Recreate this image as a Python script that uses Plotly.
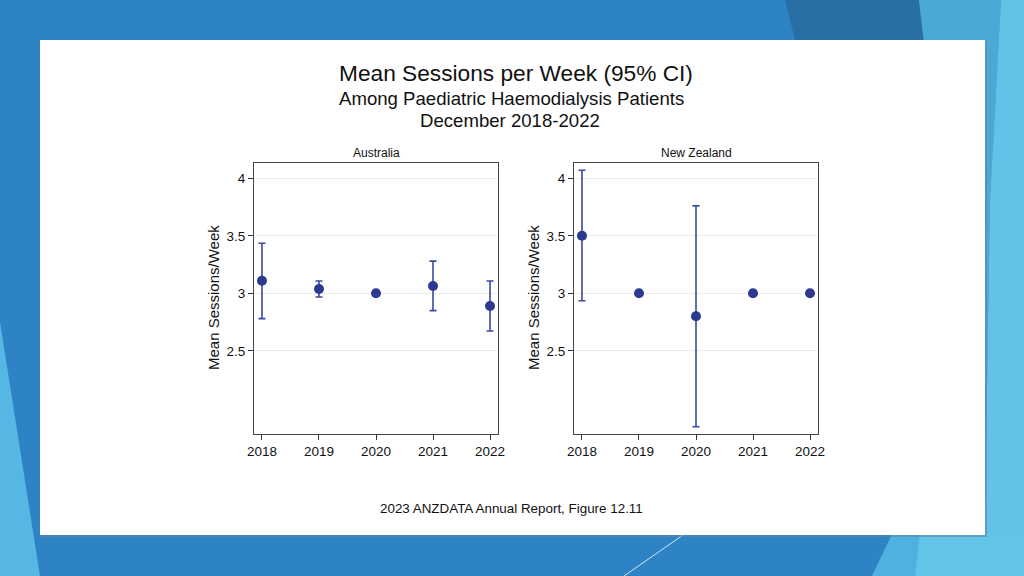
import plotly.graph_objects as go

years = [2018, 2019, 2020, 2021, 2022]

aus_mean = [3.11, 3.037, 3.0, 3.063, 2.89]
aus_upper = [3.435, 3.107, None, 3.28, 3.107]
aus_lower = [2.78, 2.968, None, 2.85, 2.672]

nz_mean = [3.5, 3.0, 2.8, 3.0, 3.0]
nz_upper = [4.07, None, 3.76, None, None]
nz_lower = [2.936, None, 1.84, None, None]

panel_titles = ["Australia", "New Zealand"]
y_ticks = [2.5, 3, 3.5, 4]
y_tick_text = ["2.5", "3", "3.5", "4"]

title_main = "Mean Sessions per Week (95% CI)"
title_sub1 = "Among Paediatric Haemodialysis Patients"
title_sub2 = "December 2018-2022"
y_title = "Mean Sessions/Week"
footer = "2023 ANZDATA Annual Report, Figure 12.11"

W, H = 1024, 576
FONT = "Liberation Sans, Arial, sans-serif"
MARK = "#2B3990"
ERR = "#3B4A9E"


def px(x):
    return x / W


def py(y):
    return 1 - y / H


def err(mean, hi, lo):
    plus = [(h - m) if h is not None else 0 for m, h in zip(mean, hi)]
    minus = [(m - l) if l is not None else 0 for m, l in zip(mean, lo)]
    return plus, minus


fig = go.Figure()

for i, (mean, hi, lo) in enumerate([(aus_mean, aus_upper, aus_lower), (nz_mean, nz_upper, nz_lower)]):
    plus, minus = err(mean, hi, lo)
    sfx = "" if i == 0 else "2"
    fig.add_trace(go.Scatter(
        x=years, y=mean, mode="markers",
        marker=dict(color=MARK, size=10),
        error_y=dict(type="data", symmetric=False, array=plus, arrayminus=minus,
                     color=ERR, thickness=1.6, width=3.5),
        xaxis="x" + sfx, yaxis="y" + sfx, showlegend=False,
    ))

x_domains = [[px(254), px(498)], [px(574), px(818)]]
y_domain = [py(434), py(163)]
xr = [2017.86, 2022.14]
yr = [1.777, 4.133]

for i in range(2):
    sfx = "" if i == 0 else "2"
    xa = dict(domain=x_domains[i], range=xr, tickvals=years, ticktext=[str(y) for y in years],
              ticks="outside", ticklen=5, tickcolor="#333", showline=True, linecolor="#444",
              linewidth=1, mirror=True, showgrid=False, zeroline=False,
              tickfont=dict(family=FONT, size=13.5, color="#111"), anchor="y" + sfx)
    ya = dict(domain=y_domain, range=yr, tickvals=y_ticks, ticktext=y_tick_text,
              ticks="outside", ticklen=5, tickcolor="#333", showline=True, linecolor="#444",
              linewidth=1, mirror=True, showgrid=True, gridcolor="#E8EDF2", gridwidth=1,
              zeroline=False, tickfont=dict(family=FONT, size=13.5, color="#111"),
              anchor="x" + sfx)
    fig.update_layout(**{"xaxis" + sfx: xa, "yaxis" + sfx: ya})

annotations = [
    dict(text=title_main, x=px(516), y=py(72.5), font=dict(size=22.7)),
    dict(text=title_sub1, x=px(511), y=py(98.5), font=dict(size=18.6)),
    dict(text=title_sub2, x=px(510), y=py(120), font=dict(size=18.6)),
    dict(text=panel_titles[0], x=px(376), y=py(153), font=dict(size=12)),
    dict(text=panel_titles[1], x=px(696), y=py(153), font=dict(size=12)),
    dict(text=y_title, x=px(213), y=py(298), font=dict(size=15), textangle=-90),
    dict(text=y_title, x=px(533), y=py(298), font=dict(size=15), textangle=-90),
    dict(text=footer, x=px(511), y=py(508), font=dict(size=13.4)),
]
for a in annotations:
    a.update(xref="paper", yref="paper", showarrow=False, xanchor="center", yanchor="middle")
    a["font"].update(family=FONT, color="#111")

shapes = []


def poly(pts, color):
    path = "M " + " L ".join(f"{px(x)},{py(y)}" for x, y in pts) + " Z"
    return dict(type="path", path=path, xref="paper", yref="paper",
                fillcolor=color, line=dict(width=0), layer="below")


# decorative background
shapes.append(poly([(785, 0), (919, 0), (926, 60), (800, 60)], "#286FA6"))
shapes.append(poly([(919, 0), (1001, 0), (990, 200), (984, 576), (930, 576), (926, 60)], "#4BA9D6"))
shapes.append(poly([(1001, 0), (1024, 0), (1024, 576), (984, 576), (990, 200)], "#62C2E8"))
shapes.append(poly([(892, 534), (984, 534), (990, 576), (872, 576)], "#4FB1DF"))
shapes.append(poly([(920, 534), (1024, 534), (1024, 576), (915, 576)], "#62C4E9"))
shapes.append(poly([(0, 322), (40, 576), (0, 576)], "#56B6E4"))
shapes.append(dict(type="line", x0=px(683), y0=py(535), x1=px(624), y1=py(576), xref="paper",
                   yref="paper", line=dict(color="#CFE6F5", width=1), layer="below"))
# card shadow + card
shapes.append(dict(type="rect", x0=px(41), x1=px(987), y0=py(537), y1=py(41), xref="paper",
                   yref="paper", fillcolor="#5F86A8", line=dict(width=0), layer="below", opacity=0.6))
shapes.append(dict(type="rect", x0=px(40), x1=px(985), y0=py(535), y1=py(40), xref="paper",
                   yref="paper", fillcolor="white", line=dict(width=0), layer="below"))

fig.update_layout(
    width=W, height=H, margin=dict(l=0, r=0, t=0, b=0, pad=0, autoexpand=False),
    paper_bgcolor="#2E83C4", plot_bgcolor="white",
    annotations=annotations, shapes=shapes, showlegend=False,
)

css_js = (
    "var s=document.createElement('style');"
    "s.innerHTML='html,body{margin:0;padding:0;overflow:hidden;width:1024px;height:576px;}"
    "body>div{width:1024px;height:576px;overflow:hidden;line-height:0;}';"
    "document.head.appendChild(s);"
)
fig.write_html("out.html", config={"displayModeBar": False}, post_script=css_js)
